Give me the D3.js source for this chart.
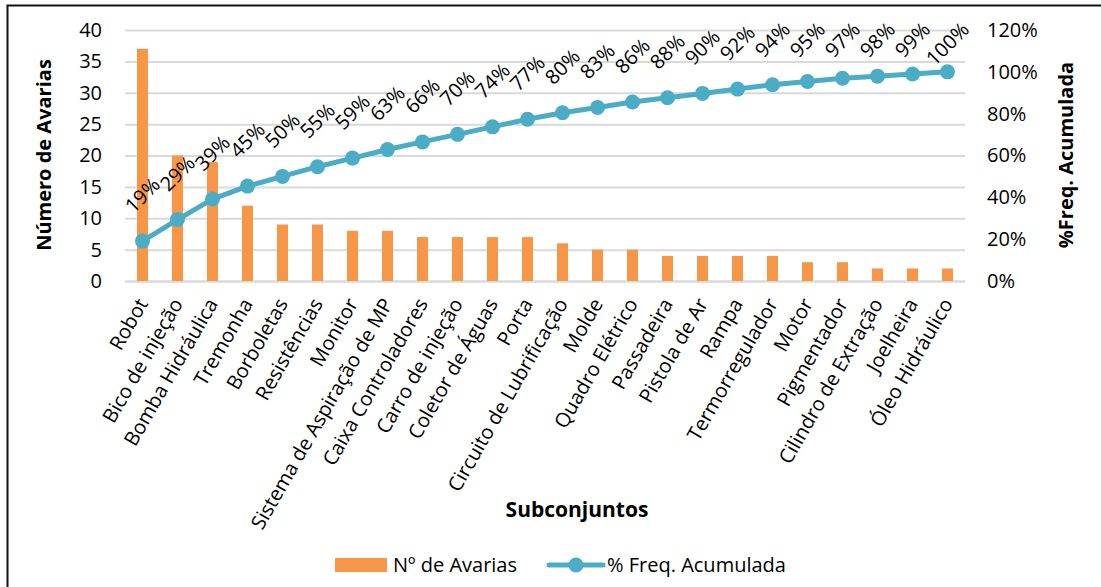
<!DOCTYPE html>
<html>
<head>
<meta charset="utf-8">
<script src="https://cdn.jsdelivr.net/npm/d3@7"></script>
<style>
  html, body { margin: 0; padding: 0; background: #fff; }
  svg text { font-family: "Open Sans", "Noto Sans", sans-serif; fill: #000; }
</style>
</head>
<body>
<svg id="chart" width="1101" height="587"></svg>
<script>
// Subsystems ordered by number of failures (Pareto)
const categories = [
  "Robot", "Bico de injeção", "Bomba Hidráulica", "Tremonha", "Borboletas",
  "Resistências", "Monitor", "Sistema de Aspiração de MP", "Caixa Controladores",
  "Carro de injeção", "Coletor de Águas", "Porta", "Circuito de Lubrificação",
  "Molde", "Quadro Elétrico", "Passadeira", "Pistola de Ar", "Rampa",
  "Termorregulador", "Motor", "Pigmentador", "Cilindro de Extração",
  "Joelheira", "Óleo Hidráulico"
];
const failures = [37, 20, 19, 12, 9, 9, 8, 8, 7, 7, 7, 7, 6, 5, 5, 4, 4, 4, 4, 3, 3, 2, 2, 2];
const cumulativePct = [
  19.07, 29.38, 39.18, 45.36, 50.00, 54.64, 58.76, 62.89, 66.49, 70.10, 73.71, 77.32,
  80.41, 82.99, 85.57, 87.63, 89.69, 91.75, 93.81, 95.36, 96.91, 97.94, 98.97, 100
];
const leftTicks = [0, 5, 10, 15, 20, 25, 30, 35, 40];
const rightTicks = [0, 20, 40, 60, 80, 100, 120];

const svg = d3.select("#chart");
const W = 1101, H = 587;
const plot = { left: 125, right: 965, top: 30, bottom: 281 };
const barColor = "#F79646", lineColor = "#4BACC6", gridColor = "#D9D9D9";
const fs = 20;

svg.append("rect").attr("x", 0).attr("y", 0).attr("width", W).attr("height", H).attr("fill", "#fff");
// frame: top and left edges
svg.append("path").attr("d", `M7.5,${H} V5.5 H${W}`)
  .attr("fill", "none").attr("stroke", "#111").attr("stroke-width", 2);

const x = d3.scaleBand().domain(categories).range([plot.left, plot.right])
  .paddingInner(0.686).paddingOuter(0.343);
const yL = d3.scaleLinear().domain([0, 40]).range([plot.bottom, plot.top]);
const yR = d3.scaleLinear().domain([0, 120]).range([plot.bottom, plot.top]);
const cx = c => x(c) + x.bandwidth() / 2;

// gridlines
const gridAxis = d3.axisLeft(yL).tickValues(leftTicks).tickSize(-(plot.right - plot.left)).tickFormat("");
const grid = svg.append("g").attr("transform", `translate(${plot.left},0)`).call(gridAxis);
grid.select(".domain").remove();
grid.selectAll("line").attr("stroke", gridColor).attr("stroke-width", 2);

// left axis labels
const leftAxis = svg.append("g").attr("transform", `translate(${plot.left},0)`)
  .call(d3.axisLeft(yL).tickValues(leftTicks).tickSize(0).tickPadding(23));
leftAxis.select(".domain").remove();
leftAxis.selectAll("text").attr("font-size", fs).attr("font-family", null);

// right axis labels
const rightAxis = svg.append("g").attr("transform", `translate(${plot.right},0)`)
  .call(d3.axisRight(yR).tickValues(rightTicks).tickSize(0).tickPadding(22).tickFormat(d => d + "%"));
rightAxis.select(".domain").remove();
rightAxis.selectAll("text").attr("font-size", fs).attr("font-family", null);

// bottom axis with rotated category labels
const bottomAxis = svg.append("g").attr("transform", `translate(0,${plot.bottom})`)
  .call(d3.axisBottom(x).tickSize(0).tickPadding(0));
bottomAxis.select(".domain").attr("stroke", gridColor).attr("stroke-width", 2);
bottomAxis.selectAll("text")
  .attr("font-size", fs).attr("font-family", null)
  .attr("text-anchor", "end")
  .attr("x", 0).attr("y", 0).attr("dy", "0.35em")
  .attr("transform", "translate(0,19) rotate(-60)");

// bars
svg.append("g").selectAll("rect").data(categories).join("rect")
  .attr("x", d => x(d))
  .attr("width", x.bandwidth())
  .attr("y", (d, i) => yL(failures[i]))
  .attr("height", (d, i) => yL(0) - yL(failures[i]))
  .attr("fill", barColor);

// cumulative line
const line = d3.line().x((d, i) => cx(categories[i])).y(d => yR(d));
svg.append("path").datum(cumulativePct).attr("d", line)
  .attr("fill", "none").attr("stroke", lineColor).attr("stroke-width", 5).attr("stroke-linejoin", "round");
svg.append("g").selectAll("circle").data(cumulativePct).join("circle")
  .attr("cx", (d, i) => cx(categories[i])).attr("cy", d => yR(d)).attr("r", 7.5)
  .attr("fill", lineColor);

// rotated percentage labels above each point
const labels = svg.append("g").selectAll("text").data(cumulativePct).join("text")
  .attr("font-size", fs).attr("text-anchor", "middle").attr("dy", "0.35em")
  .text(d => Math.round(d) + "%");
labels.each(function (d, i) {
  const len = this.getComputedTextLength();
  const half = (len + 14) / (2 * Math.SQRT2);
  const px = cx(categories[i]);
  const py = Math.max(yR(d) - 46, 21 + half);
  d3.select(this).attr("transform", `translate(${px},${py}) rotate(-45)`);
});

// axis titles
svg.append("text").attr("transform", "translate(51,155) rotate(-90)")
  .attr("text-anchor", "middle").attr("font-size", 20).attr("font-weight", "bold")
  .text("Número de Avarias");
svg.append("text").attr("transform", "translate(1073,155) rotate(-90)")
  .attr("text-anchor", "middle").attr("font-size", 20).attr("font-weight", "bold")
  .text("%Freq. Acumulada");
svg.append("text").attr("x", 577).attr("y", 517)
  .attr("text-anchor", "middle").attr("font-size", 21).attr("font-weight", "bold")
  .text("Subconjuntos");

// legend
const lg = svg.append("g");
lg.append("rect").attr("x", 335).attr("y", 558).attr("width", 52).attr("height", 14).attr("fill", barColor);
lg.append("text").attr("x", 393).attr("y", 572).attr("font-size", fs).text("Nº de Avarias");
lg.append("line").attr("x1", 549).attr("x2", 603).attr("y1", 565).attr("y2", 565)
  .attr("stroke", lineColor).attr("stroke-width", 5).attr("stroke-linecap", "round");
lg.append("circle").attr("cx", 576).attr("cy", 565).attr("r", 7.5).attr("fill", lineColor);
lg.append("text").attr("x", 607).attr("y", 572).attr("font-size", fs).text("% Freq. Acumulada");
</script>
</body>
</html>
